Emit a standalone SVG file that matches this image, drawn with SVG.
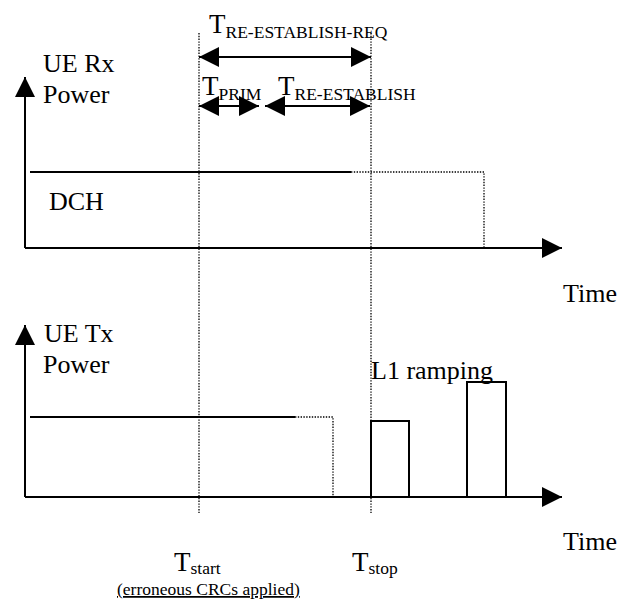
<svg xmlns="http://www.w3.org/2000/svg" width="620" height="601" viewBox="0 0 620 601">
<style>
text{font-family:"Liberation Serif","Times New Roman",serif;fill:#000}
.t{font-size:26px}
.big{font-size:27px}
.sub{font-size:17.5px}
.solid{stroke:#000;stroke-width:2;fill:none}
.dot{stroke:#000;stroke-width:1.3;stroke-dasharray:1.4 1.4;fill:none}
</style>
<defs>
<marker id="ah" markerUnits="userSpaceOnUse" markerWidth="20" markerHeight="20" refX="20" refY="10" orient="auto-start-reverse" viewBox="0 0 20 20"><path d="M0,0 L20,10 L0,20 Z" fill="#000"/></marker>
<marker id="dh" markerUnits="userSpaceOnUse" markerWidth="20" markerHeight="20" refX="20" refY="10" orient="auto-start-reverse" viewBox="0 0 20 20"><path d="M0,0 L20,10 L0,20 Z" fill="#000"/></marker>
</defs>
<g id="connectors">
<path class="solid" d="M25,248 V77" marker-end="url(#ah)"/>
<path class="solid" d="M25,248 H562" marker-end="url(#ah)"/>
<path class="solid" d="M25,497 V325" marker-end="url(#ah)"/>
<path class="solid" d="M25,497 H562" marker-end="url(#ah)"/>
<path class="dot" d="M199,33 V513"/>
<path class="dot" d="M371,33 V513"/>
<path class="solid" d="M199,57 H371" marker-start="url(#dh)" marker-end="url(#dh)"/>
<path class="solid" d="M199,106 H259" marker-start="url(#dh)" marker-end="url(#dh)"/>
<path class="solid" d="M265,106 H370" marker-start="url(#dh)" marker-end="url(#dh)"/>
</g>
<g id="dch">
<path class="solid" d="M30,172 H351"/>
<path class="dot" d="M351,172 H484 V248"/>
<text class="t" x="49" y="210">DCH</text>
</g>
<g id="tx">
<path class="solid" d="M30,417 H295"/>
<path class="dot" d="M295,417 H333 V497"/>
</g>
<g id="ramp1"><rect class="solid" x="371" y="421" width="38" height="76"/></g>
<g id="ramp2"><rect class="solid" x="467" y="382" width="39" height="115"/></g>
<g id="labels">
<text class="t" x="43" y="72">UE Rx</text>
<text class="t" x="43" y="103">Power</text>
<text class="t" x="563" y="302">Time</text>
<text class="t" x="44" y="342">UE Tx</text>
<text class="t" x="43" y="373">Power</text>
<text class="t" x="563" y="550">Time</text>
<text class="t" x="371" y="379">L1 ramping</text>
<text x="209" y="33"><tspan class="big">T</tspan><tspan class="sub" dy="5">RE-ESTABLISH-REQ</tspan></text>
<text x="202" y="95"><tspan class="big">T</tspan><tspan class="sub" dy="5">PRIM</tspan></text>
<text x="278" y="95"><tspan class="big">T</tspan><tspan class="sub" dy="5">RE-ESTABLISH</tspan></text>
<text x="174" y="571"><tspan class="big">T</tspan><tspan class="sub" dy="3">start</tspan></text>
<text x="352" y="571"><tspan class="big">T</tspan><tspan class="sub" dy="3">stop</tspan></text>
<text class="sub" x="117" y="595" text-decoration="underline">(erroneous CRCs applied)</text>
</g>
</svg>
